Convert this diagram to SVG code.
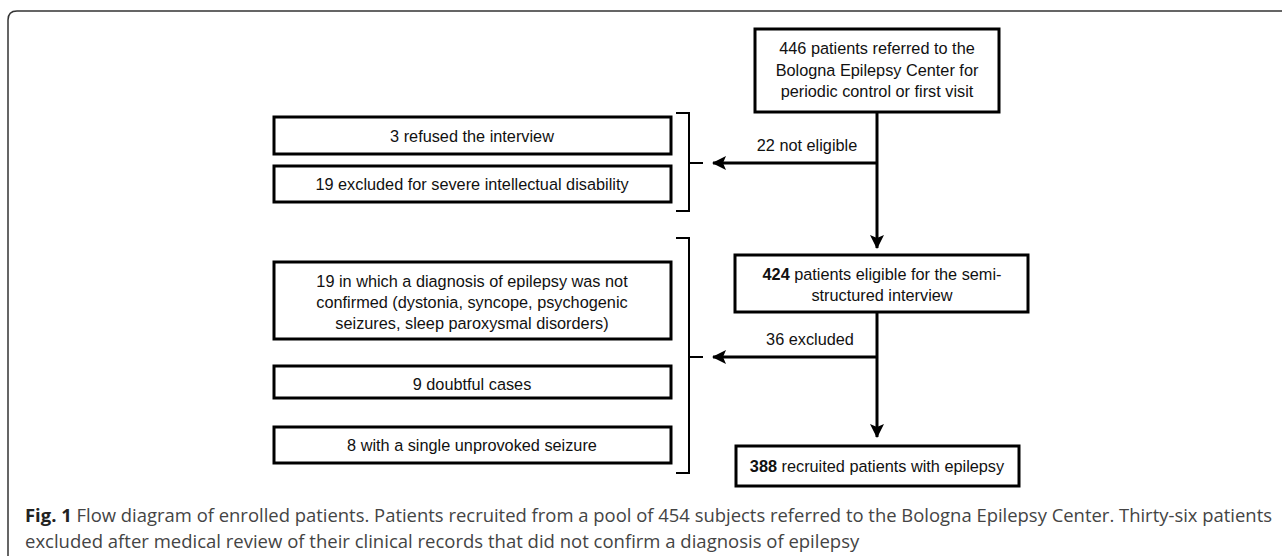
<svg xmlns="http://www.w3.org/2000/svg" width="1282" height="556" viewBox="0 0 1282 556">
<defs>
<style>
.box{fill:#fff;stroke:#000;stroke-width:3}
.t{font-family:"Liberation Sans",Arial,sans-serif;font-size:16.3px;fill:#111;text-anchor:middle}
.b{font-weight:bold}
.ln{fill:none;stroke:#000;stroke-width:3}
.br{fill:none;stroke:#000;stroke-width:2}
.cap{font-family:"Open Sans","Liberation Sans",sans-serif;font-size:18.5px;fill:#444}
</style>
<marker id="ah" viewBox="0 0 14 14" refX="13" refY="7" markerWidth="14" markerHeight="14" markerUnits="userSpaceOnUse" orient="auto">
<path d="M0,0 L14,7 L0,14 L3,7 Z" fill="#000"/>
</marker>
</defs>
<rect width="1282" height="556" fill="#fff"/>
<path d="M8,556 V20 Q8,11 17,11 H1282" fill="none" stroke="#333" stroke-width="1.5"/>

<g id="connectors">
<line class="ln" x1="877" y1="112" x2="877" y2="248" marker-end="url(#ah)"/>
<line class="ln" x1="877" y1="163" x2="713" y2="163" marker-end="url(#ah)"/>
<line class="ln" x1="877" y1="312" x2="877" y2="437" marker-end="url(#ah)"/>
<line class="ln" x1="877" y1="357" x2="713" y2="357" marker-end="url(#ah)"/>
<path class="br" d="M676,113 H689 V211 H676 M689,163 H703"/>
<path class="br" d="M676,238 H689 V473 H676 M689,357 H703"/>
<text class="t" x="807" y="151">22 not eligible</text>
<text class="t" x="810" y="345">36 excluded</text>
</g>

<g id="n_446">
<rect class="box" x="755" y="29" width="244" height="83"/>
<text class="t" x="877" y="54">446 patients referred to the</text>
<text class="t" x="877" y="76">Bologna Epilepsy Center for</text>
<text class="t" x="877" y="97">periodic control or first visit</text>
</g>
<g id="n_424">
<rect class="box" x="735" y="255" width="293" height="57"/>
<text class="t" x="882" y="280"><tspan class="b">424</tspan> patients eligible for the semi-</text>
<text class="t" x="882" y="301">structured interview</text>
</g>
<g id="n_388">
<rect class="box" x="736" y="446" width="283" height="40"/>
<text class="t" x="877" y="472"><tspan class="b">388</tspan> recruited patients with epilepsy</text>
</g>
<g id="n_refused">
<rect class="box" x="274" y="117" width="397" height="37"/>
<text class="t" x="472" y="142">3 refused the interview</text>
</g>
<g id="n_disability">
<rect class="box" x="274" y="166" width="397" height="36"/>
<text class="t" x="472" y="190">19 excluded for severe intellectual disability</text>
</g>
<g id="n_notconfirmed">
<rect class="box" x="274" y="262" width="397" height="77"/>
<text class="t" x="472" y="287">19 in which a diagnosis of epilepsy was not</text>
<text class="t" x="472" y="308">confirmed (dystonia, syncope, psychogenic</text>
<text class="t" x="472" y="329">seizures, sleep paroxysmal disorders)</text>
</g>
<g id="n_doubtful">
<rect class="box" x="274" y="366" width="397" height="32"/>
<text class="t" x="472" y="390">9 doubtful cases</text>
</g>
<g id="n_single">
<rect class="box" x="274" y="427" width="397" height="36"/>
<text class="t" x="472" y="451">8 with a single unprovoked seizure</text>
</g>

<g id="caption">
<text class="cap" x="25" y="522" textLength="1247" lengthAdjust="spacingAndGlyphs"><tspan font-weight="bold" fill="#222">Fig. 1</tspan> Flow diagram of enrolled patients. Patients recruited from a pool of 454 subjects referred to the Bologna Epilepsy Center. Thirty-six patients</text>
<text class="cap" x="25" y="548">excluded after medical review of their clinical records that did not confirm a diagnosis of epilepsy</text>
</g>
</svg>
